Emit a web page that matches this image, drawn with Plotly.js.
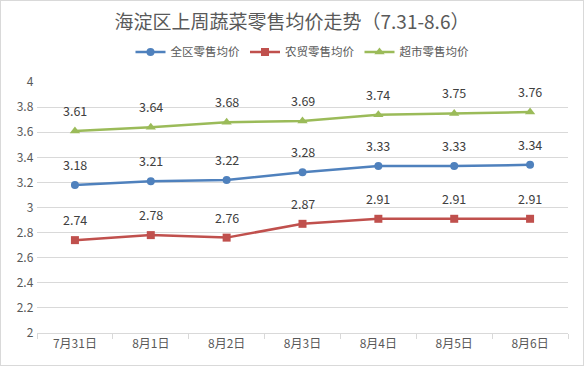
<!DOCTYPE html>
<html><head><meta charset="utf-8">
<script src="https://cdn.plot.ly/plotly-3.0.1.min.js"></script>
<style>html,body{margin:0;padding:0;background:#fff}#c{width:584px;height:366px;box-sizing:border-box;border:1px solid #d9d9d9}</style>
</head><body><div id="c"></div>
<script>
const categories = ["7月31日","8月1日","8月2日","8月3日","8月4日","8月5日","8月6日"];
const allRetail = [3.18,3.21,3.22,3.28,3.33,3.33,3.34];
const farmMarket = [2.74,2.78,2.76,2.87,2.91,2.91,2.91];
const supermarket = [3.61,3.64,3.68,3.69,3.74,3.75,3.76];
const seriesNames = ["全区零售均价","农贸零售均价","超市零售均价"];
const font = '"Noto Sans CJK SC", "Noto Sans", sans-serif';
function tr(name, y, color, symbol, size){
  return {x: categories, y: y, name: name, type:'scatter', mode:'lines+markers',
    line:{color:color, width:2.5}, marker:{color:color, size:size, symbol:symbol}, cliponaxis:false};
}
const data = [
  tr(seriesNames[0], allRetail, '#4F81BD', 'circle', 8),
  tr(seriesNames[1], farmMarket, '#C0504D', 'square', 8),
  tr(seriesNames[2], supermarket, '#9BBB59', 'triangle-up', 9)
];
const annotations = [];
[allRetail, farmMarket, supermarket].forEach(arr => {
  arr.forEach((v, i) => annotations.push({x: categories[i], y: v, xref:'x', yref:'y', text: v.toFixed(2),
    showarrow:false, yanchor:'bottom', yshift:9, font:{size:12.5, color:'#404040', family:font}}));
});
const layout = {
  width:582, height:364,
  margin:{l:36, r:15, t:81, b:32},
  paper_bgcolor:'#fff', plot_bgcolor:'#fff',
  font:{family:font, color:'#595959', size:12},
  title:{text:'海淀区上周蔬菜零售均价走势（7.31-8.6）', x:0.5, xanchor:'center', y:0.94, yanchor:'middle', font:{size:19, color:'#595959', family:font}},
  showlegend:true,
  legend:{orientation:'h', x:0.5, xanchor:'center', y:1.12, yanchor:'middle', font:{size:11.5, color:'#595959', family:font}, itemwidth:30, tracegroupgap:0},
  annotations: annotations,
  xaxis:{type:'category', tickson:'boundaries', ticks:'outside', ticklen:5, tickcolor:'#d9d9d9', showline:true, linecolor:'#d9d9d9', showgrid:false, tickfont:{size:12, color:'#595959'}, range:[-0.5,6.5], fixedrange:true},
  yaxis:{range:[2,4], dtick:0.2, tick0:2, showgrid:true, gridcolor:'#d9d9d9', zeroline:false, showline:false, ticks:'', tickfont:{size:12, color:'#595959'}, ticksuffix:' ', fixedrange:true}
};
Plotly.newPlot('c', data, layout, {displayModeBar:false, staticPlot:true});
</script></body></html>
